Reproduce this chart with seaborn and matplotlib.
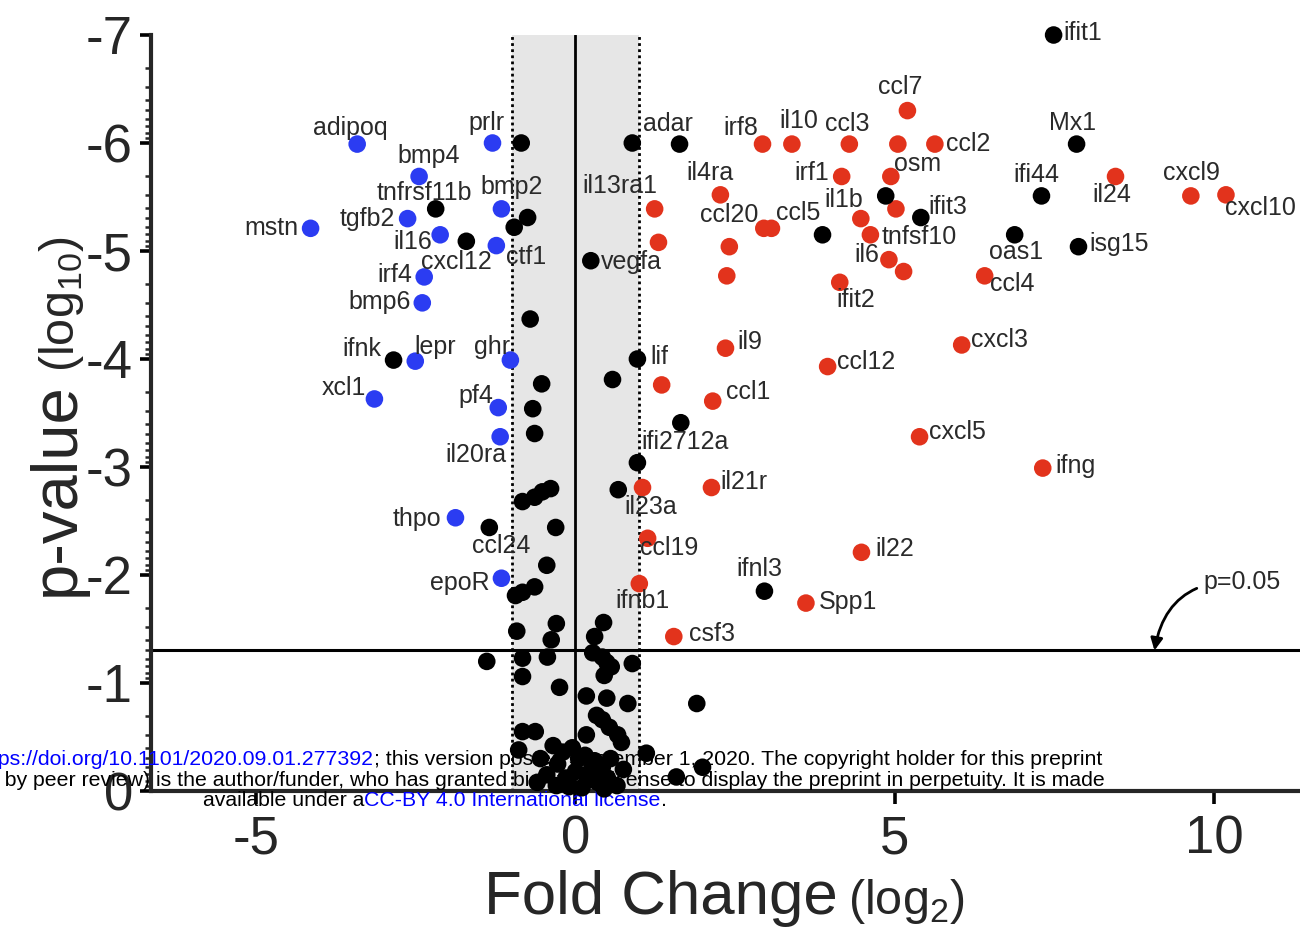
import numpy as np
import pandas as pd
import matplotlib
matplotlib.use("Agg")
import matplotlib.pyplot as plt
import seaborn as sns

# values: fold change (log2) and p-value (log10)

# significant and down (blue)
down_genes = ["adipoq", "prlr", "bmp4", "bmp2", "tgfb2", "mstn", "il16", "cxcl12",
              "irf4", "bmp6", "lepr", "ghr", "xcl1", "pf4", "il20ra", "thpo", "epoR"]
down_fc = [-3.42, -1.30, -2.45, -1.16, -2.63, -4.15, -2.12, -1.24,
           -2.37, -2.40, -2.51, -1.02, -3.15, -1.21, -1.18, -1.88, -1.16]
down_p = [-5.99, -6.00, -5.69, -5.39, -5.30, -5.21, -5.15, -5.05,
          -4.76, -4.52, -3.98, -3.99, -3.63, -3.55, -3.28, -2.53, -1.97]

# significant and up (red), "" = no label
up_genes = ["irf8", "il10", "ccl3", "", "ccl2", "ccl7", "irf1", "osm", "il24", "cxcl9",
            "cxcl10", "il4ra", "il13ra1", "", "", "il1b", "tnfsf10", "ccl20", "ccl5", "",
            "cxcl11", "il6", "", "ifit2", "ccl4", "il9", "ccl12", "cxcl3", "", "ccl1",
            "cxcl5", "ifng", "il21r", "il23a", "ccl19", "il22", "Spp1", "ifnb1", "csf3"]
up_fc = [2.93, 3.39, 4.29, 5.05, 5.63, 5.20, 4.17, 4.94, 8.46, 9.64,
         10.19, 2.27, 1.24, 1.30, 5.02, 4.47, 4.62, 2.95, 3.07, 2.41,
         2.37, 4.91, 5.14, 4.14, 6.41, 2.35, 3.95, 6.05, 1.35, 2.15,
         5.39, 7.32, 2.13, 1.05, 1.13, 4.48, 3.61, 1.00, 1.54]
up_p = [-5.99, -5.99, -5.99, -5.99, -5.99, -6.30, -5.69, -5.69, -5.69, -5.51,
        -5.52, -5.52, -5.39, -5.08, -5.39, -5.30, -5.15, -5.21, -5.21, -5.04,
        -4.77, -4.92, -4.81, -4.71, -4.77, -4.10, -3.93, -4.13, -3.76, -3.61,
        -3.28, -2.99, -2.81, -2.81, -2.34, -2.21, -1.74, -1.92, -1.43]

# not significant by both criteria (black)
ns_genes = ["ifit1", "Mx1", "adar", "", "", "ifi44", "", "ifit3", "", "oas1",
            "isg15", "tnfrsf11b", "", "", "ctf1", "vegfa", "", "ifnk", "lif", "",
            "", "", "", "ifi2712a", "", "", "", "", "", "",
            "ccl24", "", "", "", "", "", "ifnl3"]
ns_fc = [7.49, 7.85, 1.63, 0.89, -0.85, 7.30, 4.86, 5.41, 3.87, 6.88,
         7.88, -2.19, -1.71, -0.75, -0.96, 0.24, -0.71, -2.85, 0.97, 0.58,
         -0.53, -0.67, -0.64, 1.65, 0.97, 0.67, -0.83, -0.64, -0.52, -0.39,
         -1.35, -0.31, -0.45, -0.94, -0.83, -0.64, 2.96]
ns_p = [-7.00, -5.99, -5.99, -6.00, -6.00, -5.51, -5.51, -5.31, -5.15, -5.15,
        -5.04, -5.39, -5.09, -5.31, -5.22, -4.91, -4.37, -3.99, -4.00, -3.81,
        -3.77, -3.54, -3.31, -3.41, -3.04, -2.79, -2.68, -2.72, -2.77, -2.80,
        -2.44, -2.44, -2.09, -1.81, -1.84, -1.89, -1.85]

# unlabeled black points below the p=0.05 line
rest_fc = [-0.92, -0.30, 0.44, -0.38, 0.30, -1.39, -0.83, -0.44, 0.27, 0.42,
           -0.83, -0.25, 0.49, 0.56, 0.89, 0.45, 1.90, 0.17, 0.49, 0.82,
           0.33, 0.42, 0.53, 0.66, 0.72, -0.83, -0.63, 0.17, -0.89, 1.11,
           1.58, 1.99, -0.35, -0.20, -0.05, 0.05, -0.28, 0.15, 0.30, 0.42,
           0.55, -0.45, -0.15, 0.00, 0.20, 0.35, 0.50, 0.65, -0.30, -0.10,
           0.10, 0.45, 0.25, -0.55, 0.75, -0.60]
rest_p = [-1.48, -1.55, -1.56, -1.40, -1.43, -1.20, -1.23, -1.24, -1.28, -1.24,
          -1.06, -0.96, -1.19, -1.15, -1.18, -1.07, -0.81, -0.88, -0.86, -0.81,
          -0.70, -0.66, -0.59, -0.52, -0.45, -0.55, -0.55, -0.52, -0.38, -0.35,
          -0.13, -0.22, -0.42, -0.36, -0.40, -0.30, -0.25, -0.33, -0.28, -0.22,
          -0.30, -0.15, -0.12, -0.18, -0.10, -0.08, -0.12, -0.05, -0.05, -0.04,
          -0.03, -0.02, -0.20, -0.30, -0.20, -0.08]

# where each gene name sits relative to its dot (pixels, up = positive)
label_offsets = {
    "adipoq": (-7, 16), "prlr": (-6, 20), "bmp4": (10, 20), "bmp2": (10, 22),
    "tnfrsf11b": (-11, 16), "tgfb2": (-40, 0), "mstn": (-39, 0), "il16": (-27, -7),
    "cxcl12": (-40, -16), "ctf1": (12, -30), "irf4": (-29, 2), "bmp6": (-43, 1),
    "ifnk": (-32, 11), "lepr": (20, 14), "ghr": (-18, 13), "xcl1": (-31, 11),
    "pf4": (-22, 12), "il20ra": (-24, -18), "thpo": (-39, -1), "ccl24": (12, -19),
    "epoR": (-42, -5), "adar": (-12, 20), "il13ra1": (-35, 23), "vegfa": (41, -1),
    "irf8": (-22, 16), "il10": (7, 23), "ccl3": (-2, 20), "ccl7": (-7, 24),
    "ccl2": (33, 0), "il4ra": (-10, 22), "irf1": (-30, 3), "osm": (27, 12),
    "il1b": (-17, 19), "ccl20": (-35, 13), "ccl5": (27, 15), "ifit3": (27, 11),
    "tnfsf10": (49, -2), "il6": (-22, 5), "ifit2": (16, -18), "oas1": (1, -17),
    "ccl4": (28, -8), "isg15": (41, 3), "ifi44": (-5, 21), "il24": (-4, -19),
    "Mx1": (-4, 21), "ifit1": (29, 2), "cxcl9": (1, 23), "cxcl10": (34, -13),
    "il9": (24, 6), "ccl12": (38, 5), "cxcl3": (38, 5), "lif": (22, 2),
    "ccl1": (35, 9), "ifi2712a": (4, -19), "cxcl5": (38, 5), "ifng": (33, 2),
    "il21r": (32, 6), "il23a": (8, -19), "ccl19": (22, -10), "il22": (33, 3),
    "ifnl3": (-5, 22), "Spp1": (42, 1), "ifnb1": (3, -17), "csf3": (38, 3),
}

# build one table for seaborn
df = pd.concat([
    pd.DataFrame({"gene": down_genes, "fc": down_fc, "logp": down_p, "group": "down"}),
    pd.DataFrame({"gene": up_genes, "fc": up_fc, "logp": up_p, "group": "up"}),
    pd.DataFrame({"gene": ns_genes, "fc": ns_fc, "logp": ns_p, "group": "ns"}),
    pd.DataFrame({"gene": "", "fc": rest_fc, "logp": rest_p, "group": "ns"}),
], ignore_index=True)

sns.set_style("ticks")
plt.rcParams["font.family"] = ["Liberation Sans", "DejaVu Sans"]
plt.rcParams["mathtext.fontset"] = "custom"
plt.rcParams["mathtext.rm"] = "Liberation Sans"
plt.rcParams["axes.unicode_minus"] = False

W, H = 1300, 936
fig = plt.figure(figsize=(13, 9.36), dpi=100)
ax = fig.add_axes([151 / W, 1 - 791 / H, (W - 151) / W, (791 - 35) / H])

# shaded fold change band and reference lines
ax.axvspan(-1, 1, color="#e6e6e6", zorder=0, lw=0)
for xv in (-1, 1):
    ax.axvline(xv, color="black", ls=(0, (1, 1.2)), lw=2, zorder=1)
ax.axvline(0, color="black", lw=2, zorder=1)
ax.axhline(np.log10(0.05), color="black", lw=2.2, zorder=1)

colors = {"down": "#2b3cf2", "up": "#e2331c", "ns": "black"}
sns.scatterplot(data=df, x="fc", y="logp", hue="group", palette=colors, s=160,
                linewidth=0, legend=False, ax=ax, zorder=4, clip_on=False)

# gene names
for gene, fc, lp in zip(df["gene"], df["fc"], df["logp"]):
    if gene in label_offsets:
        dx, dy = label_offsets[gene]
        ax.annotate(gene, (fc, lp), xytext=(dx, dy), textcoords="offset pixels",
                    ha="center", va="center", fontsize=18, color="#2a2a2a", zorder=6)

# p=0.05 note with curved arrow
ax.annotate("p=0.05", xy=(9.07, np.log10(0.05)), xytext=(10.45, -1.935),
            ha="center", va="center", fontsize=18, color="#2a2a2a", zorder=6,
            arrowprops=dict(arrowstyle="-|>", connectionstyle="arc3,rad=0.45",
                            color="black", lw=2, shrinkA=3, shrinkB=0, mutation_scale=18))

# axes
ax.set_xlim(-6.65, 11.35)
ax.set_ylim(0, -7)
ax.set_xticks([-5, 0, 5, 10])
ax.set_yticks(range(-7, 1))
ax.set_yticklabels([str(v) for v in range(-7, 1)])
minor = [n + np.log10(k) for n in range(-7, 0) for k in range(2, 10)]
ax.set_yticks(minor, minor=True)
ax.tick_params(axis="both", labelsize=38, width=2.6, color="black")
ax.tick_params(axis="y", which="major", length=8, pad=5)
ax.tick_params(axis="y", which="minor", length=4.5, width=1.8)
ax.tick_params(axis="x", which="major", length=9, pad=8)
ax.set_xlabel("")
ax.set_ylabel("")
sns.despine(ax=ax)
for side in ("left", "bottom"):
    ax.spines[side].set_linewidth(3)

# axis titles, big word + smaller unit
xl = ax.annotate("Fold Change", xy=(484, H - 914), xycoords="figure pixels",
                 ha="left", va="baseline", fontsize=44.5, annotation_clip=False)
ax.annotate("(log$_2$)", xy=(1.0, H - 914), xycoords=(xl, "figure pixels"),
            xytext=(10, 0), textcoords="offset pixels",
            ha="left", va="baseline", fontsize=35, annotation_clip=False)
yl = ax.annotate("p-value", xy=(74, H - 596), xycoords="figure pixels",
                 rotation=90, rotation_mode="anchor", ha="left", va="baseline",
                 fontsize=47, annotation_clip=False)
ax.annotate("(log$_{10}$)", xy=(74, 1.0), xycoords=("figure pixels", yl),
            xytext=(0, 10), textcoords="offset pixels",
            rotation=90, rotation_mode="anchor", ha="left", va="baseline",
            fontsize=35, annotation_clip=False)

# bioRxiv watermark over the lower part
wm = dict(fontsize=15.3, annotation_clip=False, zorder=3.5)
t1b = ax.annotate("; this version posted September 1, 2020. The copyright holder for this preprint",
                  xy=(1102, H - 765), xycoords="figure pixels", ha="right", va="baseline",
                  color="black", **wm)
ax.annotate("https://doi.org/10.1101/2020.09.01.277392", xy=(0.0, H - 765),
            xycoords=(t1b, "figure pixels"), ha="right", va="baseline", color="blue", **wm)
ax.annotate("(which was not certified by peer review) is the author/funder, who has granted "
            "bioRxiv a license to display the preprint in perpetuity. It is made",
            xy=(1105, H - 786), xycoords="figure pixels", ha="right", va="baseline",
            color="black", **wm)
t3a = ax.annotate("available under a", xy=(203, H - 806), xycoords="figure pixels",
                  ha="left", va="baseline", color="black", **wm)
t3b = ax.annotate("CC-BY 4.0 International license", xy=(1.0, H - 806),
                  xycoords=(t3a, "figure pixels"), ha="left", va="baseline", color="blue", **wm)
ax.annotate(".", xy=(1.0, H - 806), xycoords=(t3b, "figure pixels"),
            ha="left", va="baseline", color="black", **wm)

plt.savefig("out.png", dpi=100)
plt.close()
